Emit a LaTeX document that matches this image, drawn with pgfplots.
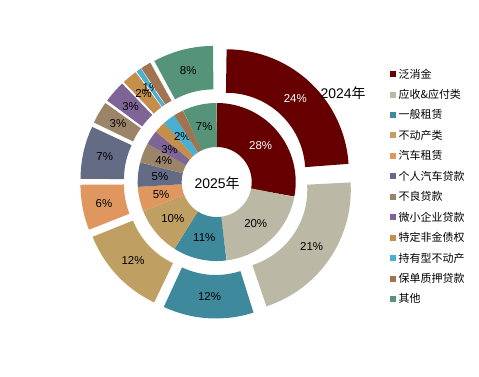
\documentclass[border=0pt]{standalone}
\usepackage{pgfplots}
\pgfplotsset{compat=1.18}
\usepackage{fontspec}
\setmainfont{Liberation Sans}
\newfontfamily\cjk{Noto Sans CJK SC}
\definecolor{c1}{RGB}{102,0,0}
\definecolor{c2}{RGB}{187,184,166}
\definecolor{c3}{RGB}{62,138,156}
\definecolor{c4}{RGB}{192,160,98}
\definecolor{c5}{RGB}{224,151,95}
\definecolor{c6}{RGB}{99,107,133}
\definecolor{c7}{RGB}{156,132,105}
\definecolor{c8}{RGB}{127,101,151}
\definecolor{c9}{RGB}{195,143,74}
\definecolor{c10}{RGB}{75,175,209}
\definecolor{c11}{RGB}{160,116,80}
\definecolor{c12}{RGB}{85,148,121}
\newcommand\lab{\fontsize{11.5}{13}\selectfont}
\newcommand\legf{\cjk\fontsize{11}{13}\selectfont}
\newcommand\yearf{\fontsize{14}{16}\selectfont}
\def\cum{0}
% #1 value (%), #2 mid radius, #3 ring width, #4 explosion, #5 colour, #6 label, #7 label colour, #8 extra options
\newcommand\seg[8]{%
  \pgfmathsetmacro\aS{\cum*3.6}%
  \pgfmathsetmacro\aE{(\cum+#1)*3.6}%
  \pgfmathsetmacro\aM{(\cum+#1/2)*3.6}%
  \pgfmathsetmacro\ox{#4*sin(\aM)}%
  \pgfmathsetmacro\oy{#4*cos(\aM)}%
  \pgfmathsetmacro\lx{\ox+#2*sin(\aM)}%
  \pgfmathsetmacro\ly{\oy+#2*cos(\aM)}%
  \edef\doplot{\noexpand\addplot[color=#5,line width=#3bp,line cap=butt,domain=\aS:\aE,samples=60,#8]({\ox+#2*sin(x)},{\oy+#2*cos(x)});}%
  \doplot
  \edef\donode{\noexpand\node[font=\noexpand\lab,text=#7] at (axis cs:\lx,\ly)}%
  \donode{#6};%
  \pgfmathsetmacro\cumnew{\cum+#1}%
  \global\let\cum\cumnew
}
\begin{document}
\begin{tikzpicture}
\begin{axis}[
  x=1bp, y=1bp,
  xmin=-216.7, xmax=262.3, ymin=-194, ymax=182,
  hide axis, clip=false,
  legend image code/.code={\fill[#1, line width=0pt] (0bp,-2.5bp) rectangle (5bp,2.5bp);},
  legend cell align=left,
  legend style={draw=none, fill=none, at={(axis cs:173.3,114)}, anchor=north west,
    font=\legf, inner sep=0pt, row sep=8.7bp, nodes={inner sep=0.5bp},
    /tikz/every odd column/.append style={column sep=3bp}},
]
\path (axis cs:-216.7,-194) rectangle (axis cs:262.3,182);
% 2024 (outer ring, exploded)
\gdef\cum{0}
\seg{24}{100.75}{43.5}{14}{c1}{24\%}{white}{}
\seg{21}{100.75}{43.5}{14}{c2}{21\%}{black}{}
\seg{12}{100.75}{43.5}{14}{c3}{12\%}{black}{}
\seg{12}{100.75}{43.5}{14}{c4}{12\%}{black}{}
\seg{6}{100.75}{43.5}{14}{c5}{6\%}{black}{}
\seg{7}{100.75}{43.5}{14}{c6}{7\%}{black}{}
\seg{3}{100.75}{43.5}{14}{c7}{3\%}{black}{}
\seg{3}{100.75}{43.5}{14}{c8}{3\%}{black}{}
\seg{2}{100.75}{43.5}{14}{c9}{2\%}{black}{}
\seg{0.6}{100.75}{43.5}{14}{c10}{1\%}{black}{}
\seg{1.4}{100.75}{43.5}{14}{c11}{}{black}{}
\seg{8}{100.75}{43.5}{14}{c12}{8\%}{black}{}
% 2025 (inner ring)
\gdef\cum{0}
\seg{28}{57}{44}{0}{c1}{28\%}{white}{forget plot}
\seg{20}{57}{44}{0}{c2}{20\%}{black}{forget plot}
\seg{11}{57}{44}{0}{c3}{11\%}{black}{forget plot}
\seg{10}{57}{44}{0}{c4}{10\%}{black}{forget plot}
\seg{5}{57}{44}{0}{c5}{5\%}{black}{forget plot}
\seg{5}{57}{44}{0}{c6}{5\%}{black}{forget plot}
\seg{4}{57}{44}{0}{c7}{4\%}{black}{forget plot}
\seg{3}{57}{44}{0}{c8}{3\%}{black}{forget plot}
\seg{2.4}{57}{44}{0}{c9}{}{black}{forget plot}
\seg{2.6}{57}{44}{0}{c10}{2\%}{black}{forget plot}
\seg{2}{57}{44}{0}{c11}{}{black}{forget plot}
\seg{7}{57}{44}{0}{c12}{7\%}{black}{forget plot}
\node[font=\yearf] at (axis cs:0.3,-1) {2025{\cjk 年}};
\node[font=\yearf] at (axis cs:126.3,88.7) {2024{\cjk 年}};
\legend{泛消金,应收\&应付类,一般租赁,不动产类,汽车租赁,个人汽车贷款,不良贷款,微小企业贷款,特定非金债权,持有型不动产,保单质押贷款,其他}
\end{axis}
\end{tikzpicture}
\end{document}
